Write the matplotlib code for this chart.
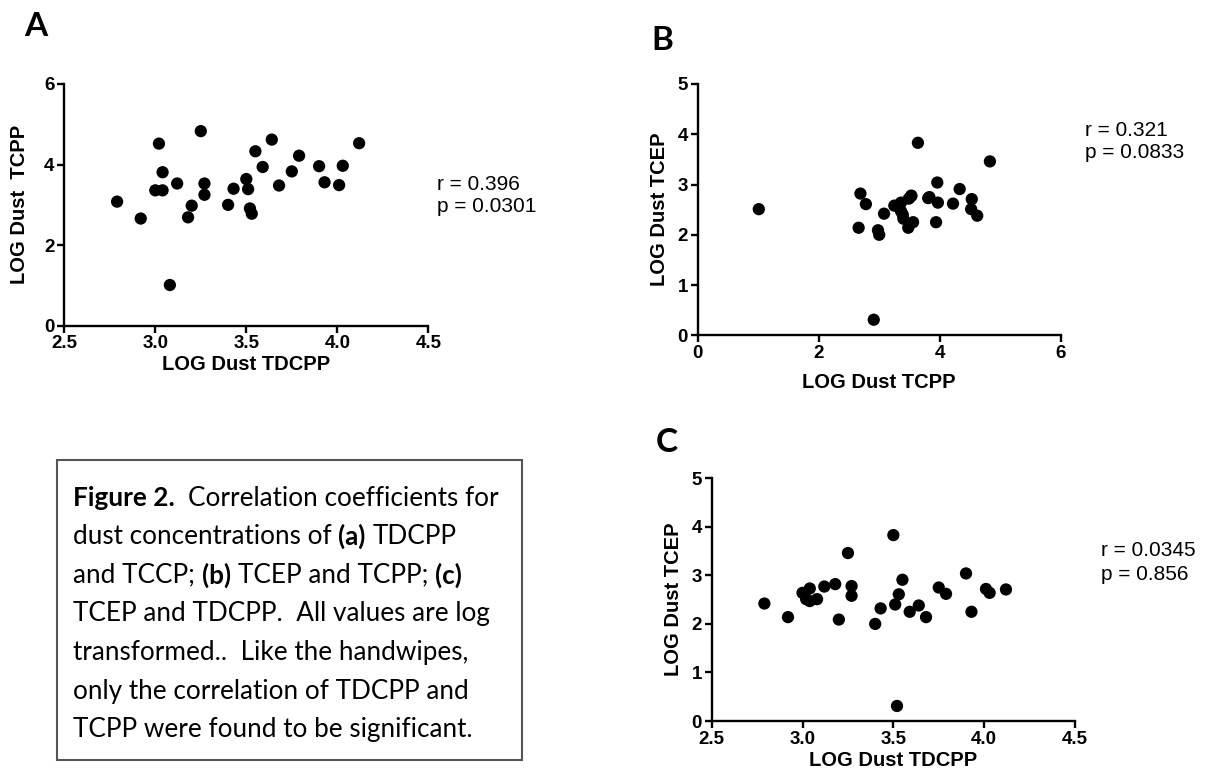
import numpy as np
import matplotlib
matplotlib.use("Agg")
import matplotlib.pyplot as plt

# log dust concentrations, one entry per house
tdcpp = [2.79, 2.92, 3.00, 3.02, 3.04, 3.04, 3.08, 3.12, 3.18, 3.20,
         3.25, 3.27, 3.27, 3.40, 3.43, 3.50, 3.51, 3.52, 3.53, 3.55,
         3.59, 3.64, 3.68, 3.75, 3.79, 3.90, 3.93, 4.01, 4.03, 4.12]
tcpp = [3.08, 2.66, 3.36, 4.52, 3.81, 3.36, 1.01, 3.53, 2.69, 2.98,
        4.83, 3.53, 3.25, 3.00, 3.40, 3.64, 3.39, 2.91, 2.78, 4.33,
        3.94, 4.62, 3.48, 3.83, 4.22, 3.96, 3.56, 3.49, 3.97, 4.53]
tcep = [2.42, 2.14, 2.64, 2.51, 2.73, 2.47, 2.51, 2.77, 2.82, 2.09,
        3.46, 2.78, 2.58, 2.00, 2.32, 3.83, 2.40, 0.31, 2.61, 2.91,
        2.25, 2.38, 2.14, 2.75, 2.62, 3.04, 2.25, 2.72, 2.64, 2.71]

stats_a = ["r = 0.396", "p = 0.0301"]
stats_b = ["r = 0.321", "p = 0.0833"]
stats_c = ["r = 0.0345", "p = 0.856"]

caption = [
    [("Figure 2.", True), ("  Correlation coefficients for", False)],
    [("dust concentrations of ", False), ("(a)", True), (" TDCPP", False)],
    [("and TCCP; ", False), ("(b)", True), (" TCEP and TCPP; ", False), ("(c)", True)],
    [("TCEP and TDCPP.  All values are log", False)],
    [("transformed..  Like the handwipes,", False)],
    [("only the correlation of TDCPP and", False)],
    [("TCPP were found to be significant.", False)],
]

W, H = 1207, 776
fig = plt.figure(figsize=(W / 100, H / 100), dpi=100)
ax_font = "Liberation Sans"


def px_axes(left, top, right, bottom):
    return fig.add_axes([left / W, 1 - bottom / H, (right - left) / W, (bottom - top) / H])


def style(ax, x, y, xlim, ylim, xticks, yticks, xfmt, xlabel, ylabel, xpad=2, ypad=6):
    ax.scatter(x, y, s=78, color="black", edgecolor="none", clip_on=False, zorder=3)
    ax.set_xlim(*xlim)
    ax.set_ylim(*ylim)
    ax.set_xticks(xticks)
    ax.set_yticks(yticks)
    ax.set_xticklabels([xfmt.format(t) for t in xticks])
    ax.set_yticklabels([str(t) for t in yticks])
    for s in ["top", "right"]:
        ax.spines[s].set_visible(False)
    for s in ["left", "bottom"]:
        ax.spines[s].set_linewidth(1.7)
    ax.tick_params(direction="out", length=5, width=1.7, pad=2, labelsize=13.5)
    for lab in ax.get_xticklabels() + ax.get_yticklabels():
        lab.set_fontfamily(ax_font)
        lab.set_fontweight("bold")
    ax.set_xlabel(xlabel, fontsize=14.5, fontweight="bold", fontfamily=ax_font, labelpad=xpad)
    ax.set_ylabel(ylabel, fontsize=14.5, fontweight="bold", fontfamily=ax_font, labelpad=ypad)


ax_a = px_axes(64.3, 84, 428.3, 325.7)
style(ax_a, tdcpp, tcpp, (2.5, 4.5), (0, 6), [2.5, 3.0, 3.5, 4.0, 4.5], [0, 2, 4, 6],
      "{:.1f}", "LOG Dust TDCPP", "LOG Dust  TCPP", xpad=2, ypad=11)

ax_b = px_axes(697.7, 84, 1060.7, 335.3)
style(ax_b, tcpp, tcep, (0, 6), (0, 5), [0, 2, 4, 6], [0, 1, 2, 3, 4, 5],
      "{:d}", "LOG Dust TCPP", "LOG Dust TCEP", xpad=8, ypad=6)

ax_c = px_axes(711.7, 478.3, 1075, 721)
style(ax_c, tdcpp, tcep, (2.5, 4.5), (0, 5), [2.5, 3.0, 3.5, 4.0, 4.5], [0, 1, 2, 3, 4, 5],
      "{:.1f}", "LOG Dust TDCPP", "LOG Dust TCEP", xpad=2, ypad=6)


def ftext(x, y, s, **kw):
    return fig.text(x / W, 1 - y / H, s, **kw)


# r / p annotations
for (x0, y0), lines in [((437, 184), stats_a), ((1085, 130), stats_b), ((1101, 551), stats_c)]:
    for i, t in enumerate(lines):
        ftext(x0, y0 + i * 23, t, fontsize=15, fontfamily=ax_font, va="center", ha="left")

# panel letters
for (x0, y0), t in [((36, 26), "A"), ((662, 40), "B"), ((667, 443), "C")]:
    ftext(x0, y0, t, fontsize=24, fontfamily="Lato", fontweight="bold", va="center", ha="center")

# caption box
box = plt.Rectangle((57 / W, 1 - 760 / H), (522 - 57) / W, (760 - 460) / H,
                    transform=fig.transFigure, fill=False, edgecolor="#555555", linewidth=1.5)
fig.add_artist(box)

renderer = fig.canvas.get_renderer()
cap_font = "Lato"


def text_width(s, bold, size):
    t = ftext(0, 0, s, fontsize=size, fontfamily=cap_font,
              fontweight="bold" if bold else "normal")
    w = t.get_window_extent(renderer).width
    t.remove()
    return w


# size the caption so its 4th line is about as wide as in the original
cap_size = 10 * 415 / text_width("TCEP and TDCPP.  All values are log", False, 10)
space_w = text_width("a a", False, cap_size) - text_width("aa", False, cap_size)

for i, line in enumerate(caption):
    x = 73
    y = 498 + i * 38.6
    for seg, bold in line:
        lead = len(seg) - len(seg.lstrip(" "))
        trail = len(seg) - len(seg.rstrip(" "))
        x += lead * space_w
        core = seg.strip(" ")
        t = ftext(x, y, core, fontsize=cap_size, fontfamily=cap_font,
                  fontweight="bold" if bold else "normal", va="center", ha="left")
        x += t.get_window_extent(renderer).width + trail * space_w

fig.savefig("out.png", dpi=100)
